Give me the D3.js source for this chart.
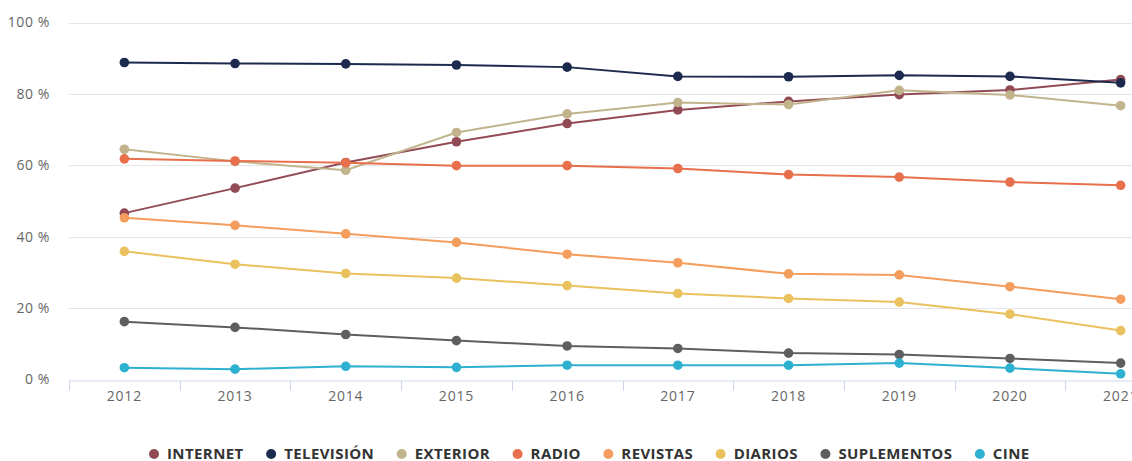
<!DOCTYPE html>
<html>
<head>
<meta charset="utf-8">
<script src="https://cdn.jsdelivr.net/npm/d3@7"></script>
<style>
  body { margin: 0; background: #fff; }
  svg { display: block; font-family: "Open Sans", Lato, sans-serif; }
</style>
</head>
<body>
<div id="chart"></div>
<script>
const years = ["2012", "2013", "2014", "2015", "2016", "2017", "2018", "2019", "2020", "2021"];
const yTicks = [0, 20, 40, 60, 80, 100];

const internet    = [46.6, 53.6, 60.8, 66.6, 71.7, 75.5, 77.9, 79.8, 81.1, 84.0];
const television  = [88.8, 88.5, 88.4, 88.1, 87.5, 84.9, 84.8, 85.2, 84.9, 83.1];
const exterior    = [64.5, 61.1, 58.6, 69.2, 74.4, 77.6, 77.0, 81.0, 79.7, 76.7];
const radio       = [61.8, 61.2, 60.7, 59.9, 59.9, 59.1, 57.4, 56.7, 55.3, 54.4];
const revistas    = [45.3, 43.2, 40.8, 38.4, 35.1, 32.7, 29.6, 29.3, 26.0, 22.5];
const diarios     = [35.9, 32.3, 29.7, 28.4, 26.3, 24.1, 22.7, 21.7, 18.3, 13.7];
const suplementos = [16.2, 14.6, 12.6, 10.9, 9.4, 8.7, 7.4, 7.0, 5.9, 4.6];
const cine        = [3.3, 2.9, 3.7, 3.4, 4.0, 4.0, 4.0, 4.6, 3.2, 1.6];

const seriesNames  = ["INTERNET", "TELEVISIÓN", "EXTERIOR", "RADIO", "REVISTAS", "DIARIOS", "SUPLEMENTOS", "CINE"];
const seriesValues = [internet, television, exterior, radio, revistas, diarios, suplementos, cine];
const seriesColors = ["#924b55", "#1c2a4e", "#c1b48c", "#e86f4b", "#f49d5c", "#eac15f", "#5e5e5e", "#2eb0d0"];

const width = 1132, height = 461;

const svg = d3.select("#chart").append("svg")
    .attr("width", width)
    .attr("height", height);

// plot is wider than the window on purpose, the last label gets cut like in the source
const x = d3.scaleBand().domain(years).range([69, 1176]);
const y = d3.scaleLinear().domain([0, 100]).range([379.5, 22.5]);

// grid lines
svg.append("g")
    .selectAll("line")
    .data(yTicks.filter(d => d > 0))
    .enter().append("line")
    .attr("x1", 69)
    .attr("x2", 1176)
    .attr("y1", d => Math.round(y(d)) + 0.5)
    .attr("y2", d => Math.round(y(d)) + 0.5)
    .attr("stroke", "#e6e6e6")
    .attr("stroke-width", 1);

// y labels
svg.append("g")
    .selectAll("text")
    .data(yTicks)
    .enter().append("text")
    .attr("x", 50)
    .attr("y", d => y(d))
    .attr("dy", "0.35em")
    .attr("text-anchor", "end")
    .attr("fill", "#666")
    .style("font-size", "14px")
    .style("letter-spacing", "0.6px")
    .text(d => d + " %");

// x axis
const xAxis = svg.append("g")
    .attr("transform", "translate(0," + (Math.round(y(0)) + 0.5) + ")")
    .call(d3.axisBottom(x).tickSize(0).tickPadding(11));

xAxis.select(".domain").attr("stroke", "#ccd6eb");
xAxis.selectAll("text")
    .attr("fill", "#666")
    .style("font-size", "14px")
    .style("letter-spacing", "0.8px")
    .style("font-family", "'Open Sans', Lato, sans-serif");

xAxis.selectAll(".band-tick")
    .data(years)
    .enter().append("line")
    .attr("class", "band-tick")
    .attr("x1", d => Math.round(x(d)) + 0.5)
    .attr("x2", d => Math.round(x(d)) + 0.5)
    .attr("y1", 0)
    .attr("y2", 10)
    .attr("stroke", "#ccd6eb");

// lines + markers
const line = d3.line()
    .x((d, i) => x(years[i]) + x.bandwidth() / 2)
    .y(d => y(d));

seriesValues.forEach((vals, k) => {
    const g = svg.append("g");
    g.append("path")
        .datum(vals)
        .attr("d", line)
        .attr("fill", "none")
        .attr("stroke", seriesColors[k])
        .attr("stroke-width", 2);
    g.selectAll("circle")
        .data(vals)
        .enter().append("circle")
        .attr("cx", (d, i) => x(years[i]) + x.bandwidth() / 2)
        .attr("cy", d => y(d))
        .attr("r", 4.8)
        .attr("fill", seriesColors[k]);
});

// legend
const legend = svg.append("g").attr("transform", "translate(0,454)");
let lx = 154;
seriesNames.forEach((name, k) => {
    legend.append("circle")
        .attr("cx", lx)
        .attr("cy", 0)
        .attr("r", 5)
        .attr("fill", seriesColors[k]);
    const t = legend.append("text")
        .attr("x", lx + 13)
        .attr("y", 0)
        .attr("dy", "0.35em")
        .attr("fill", "#333")
        .style("font-size", "15px")
        .style("font-weight", "bold")
        .style("letter-spacing", "0.4px")
        .text(name);
    lx += 13 + t.node().getComputedTextLength() + 27.5;
});
</script>
</body>
</html>
